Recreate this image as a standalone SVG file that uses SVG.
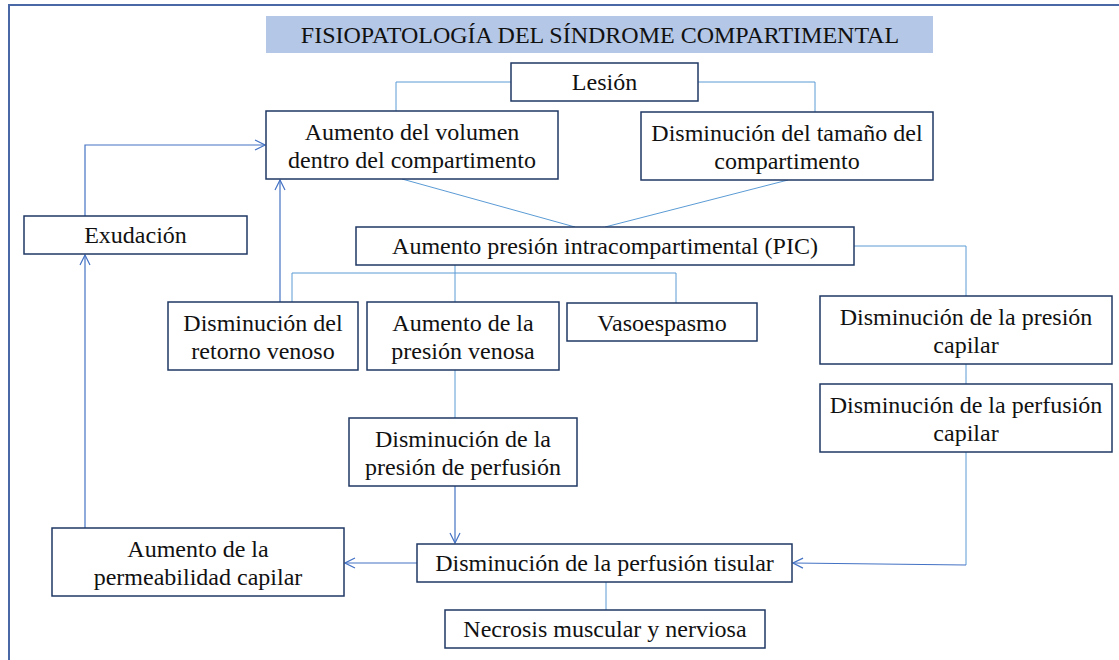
<svg xmlns="http://www.w3.org/2000/svg" width="1119" height="660" viewBox="0 0 1119 660">
<defs>
<style>
.box{fill:#fff;stroke:#1f3864;stroke-width:1.5}
.t{font-family:'Liberation Serif','DejaVu Serif',serif;font-size:24px;fill:#111;text-anchor:middle}
.c{fill:none;stroke:#5b9bd5;stroke-width:1}
.a{fill:none;stroke:#4472c4;stroke-width:1.2;marker-end:url(#arr)}
</style>
<marker id="arr" viewBox="0 0 12 12" refX="11" refY="6" markerWidth="12" markerHeight="12" markerUnits="userSpaceOnUse" orient="auto">
<path d="M1,1 L11,6 L1,11" fill="none" stroke="#4472c4" stroke-width="1.2"/>
</marker>
</defs>
<rect width="1119" height="660" fill="#fff"/>
<path d="M9,660 V5 H1119" fill="none" stroke="#4a67a6" stroke-width="2"/>

<g id="title">
<rect x="266" y="16" width="667" height="37" fill="#b4c7e7"/>
<text class="t" x="600" y="43">FISIOPATOLOGÍA DEL SÍNDROME COMPARTIMENTAL</text>
</g>

<g id="connectors">
<path class="c" d="M511,82 H396 V111"/>
<path class="c" d="M698,82 H815 V112"/>
<path class="c" d="M402,179 L575,227"/>
<path class="c" d="M788,180 L605,227"/>
<path class="c" d="M455,265 V302"/>
<path class="c" d="M292,302 V273 H676 V303"/>
<path class="c" d="M854,246 H966 V296"/>
<path class="c" d="M966,364 V384"/>
<path class="c" d="M455,370 V418"/>
<path class="c" d="M606,582 V610"/>
<path class="c" d="M966,452 V565"/>
<path class="a" d="M966,565 L793,563"/>
<path class="a" d="M455,486 V543"/>
<path class="a" d="M417,563 H345"/>
<path class="a" d="M85,528 V255"/>
<path class="a" d="M85,216 V145 H265"/>
<path class="a" d="M280,302 V180"/>
</g>

<g id="lesion">
<rect class="box" x="511" y="63" width="187" height="38"/>
<text class="t" x="604.5" y="90">Lesión</text>
</g>
<g id="aumento-volumen">
<rect class="box" x="266" y="111" width="292" height="68"/>
<text class="t" x="412" y="140">Aumento del volumen</text>
<text class="t" x="412" y="168">dentro del compartimento</text>
</g>
<g id="disminucion-tamano">
<rect class="box" x="641" y="112" width="292" height="68"/>
<text class="t" x="787" y="141">Disminución del tamaño del</text>
<text class="t" x="787" y="169">compartimento</text>
</g>
<g id="exudacion">
<rect class="box" x="24" y="216" width="223" height="38"/>
<text class="t" x="135.5" y="243">Exudación</text>
</g>
<g id="pic">
<rect class="box" x="356" y="227" width="498" height="38"/>
<text class="t" x="605" y="254">Aumento presión intracompartimental (PIC)</text>
</g>
<g id="retorno-venoso">
<rect class="box" x="168" y="302" width="190" height="68"/>
<text class="t" x="263" y="331">Disminución del</text>
<text class="t" x="263" y="359">retorno venoso</text>
</g>
<g id="presion-venosa">
<rect class="box" x="367" y="302" width="192" height="68"/>
<text class="t" x="463" y="331">Aumento de la</text>
<text class="t" x="463" y="359">presión venosa</text>
</g>
<g id="vasoespasmo">
<rect class="box" x="567" y="303" width="190" height="38"/>
<text class="t" x="662" y="331">Vasoespasmo</text>
</g>
<g id="presion-capilar">
<rect class="box" x="820" y="296" width="292" height="68"/>
<text class="t" x="966" y="325">Disminución de la presión</text>
<text class="t" x="966" y="353">capilar</text>
</g>
<g id="perfusion-capilar">
<rect class="box" x="820" y="384" width="292" height="68"/>
<text class="t" x="966" y="413">Disminución de la perfusión</text>
<text class="t" x="966" y="441">capilar</text>
</g>
<g id="presion-perfusion">
<rect class="box" x="349" y="418" width="228" height="68"/>
<text class="t" x="463" y="447">Disminución de la</text>
<text class="t" x="463" y="475">presión de perfusión</text>
</g>
<g id="permeabilidad">
<rect class="box" x="52" y="528" width="292" height="68"/>
<text class="t" x="198" y="557">Aumento de la</text>
<text class="t" x="198" y="585">permeabilidad capilar</text>
</g>
<g id="perfusion-tisular">
<rect class="box" x="417" y="544" width="375" height="38"/>
<text class="t" x="604.5" y="571">Disminución de la perfusión tisular</text>
</g>
<g id="necrosis">
<rect class="box" x="445" y="610" width="320" height="38"/>
<text class="t" x="605" y="637">Necrosis muscular y nerviosa</text>
</g>
</svg>
